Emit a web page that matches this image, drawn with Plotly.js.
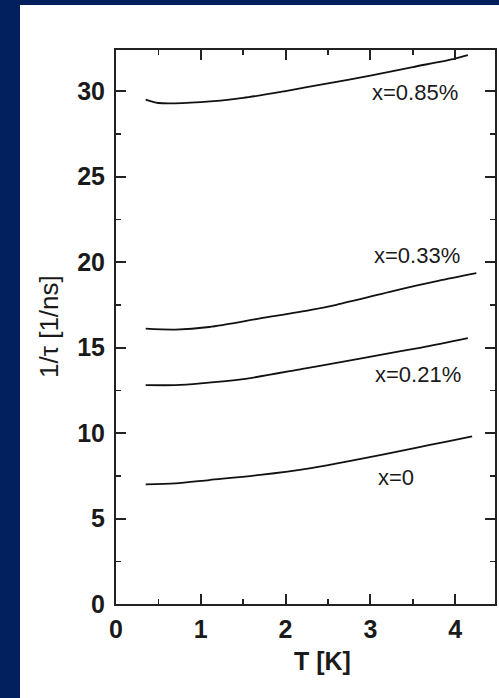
<!DOCTYPE html>
<html><head><meta charset="utf-8">
<script src="https://cdn.plot.ly/plotly-3.0.1.min.js"></script>
<style>html,body{margin:0;padding:0;background:#02205e;}#plot{width:499px;height:698px;}</style>
</head><body><div id="plot"></div>
<script>
// Data
const T_085 = [0.35, 0.5, 1.0, 1.5, 2.0, 2.5, 3.0, 3.5, 4.0, 4.15];
const r_085 = [29.5, 29.3, 29.35, 29.6, 30.0, 30.45, 30.9, 31.4, 31.9, 32.1];
const T_033 = [0.35, 0.7, 1.1, 1.7, 2.3, 2.6, 3.35, 3.8, 4.25];
const r_033 = [16.1, 16.05, 16.2, 16.7, 17.2, 17.5, 18.4, 18.9, 19.35];
const T_021 = [0.35, 0.7, 1.0, 1.5, 2.2, 2.6, 3.15, 3.6, 4.15];
const r_021 = [12.8, 12.8, 12.9, 13.15, 13.75, 14.1, 14.6, 15.0, 15.55];
const T_0 = [0.35, 0.7, 1.1, 1.7, 2.3, 2.75, 3.55, 3.9, 4.2];
const r_0 = [7.0, 7.05, 7.25, 7.55, 7.95, 8.35, 9.15, 9.5, 9.8];
const labels = ["x=0.85%", "x=0.33%", "x=0.21%", "x=0"];
const labelT = [3.53, 3.55, 3.56, 3.30];
const labelR = [29.9, 20.4, 13.4, 7.4];
const xTitle = "T [K]";
const yTitle = "1/τ [1/ns]";

const series = [[T_085, r_085], [T_033, r_033], [T_021, r_021], [T_0, r_0]];
const traces = series.map(s => ({
  x: s[0], y: s[1], type: 'scatter', mode: 'lines',
  line: {color: '#111', width: 1.8, shape: 'spline', smoothing: 0.8},
  showlegend: false, hoverinfo: 'skip'
}));

const fontFam = 'Liberation Sans, Arial, sans-serif';
const annotations = labels.map((t, i) => ({
  x: labelT[i], y: labelR[i], xref: 'x', yref: 'y', text: t, showarrow: false,
  font: {family: fontFam, size: 22, color: '#1a1a1a'}
}));
annotations.push({
  x: 2.44, y: 0, xref: 'x', yref: 'paper', yanchor: 'middle', yshift: -57,
  text: '<b>' + xTitle + '</b>', showarrow: false,
  font: {family: fontFam, size: 25, color: '#1a1a1a'}
});
annotations.push({
  x: 0, y: 0.5, xref: 'paper', yref: 'paper', xanchor: 'center', xshift: -67,
  text: yTitle, textangle: -90, showarrow: false,
  font: {family: fontFam, size: 26, color: '#1a1a1a'}
});

const axisCommon = {
  showgrid: false, zeroline: false, showline: true, linecolor: '#222', linewidth: 2,
  mirror: 'allticks', ticks: 'inside', ticklen: 10, tickwidth: 2, tickcolor: '#222',
  tickfont: {family: fontFam, size: 25, color: '#1a1a1a', weight: 'bold'}
};

const layout = {
  width: 499, height: 698,
  margin: {l: 116, r: 4, t: 50, b: 94},
  paper_bgcolor: '#02205e', plot_bgcolor: '#ffffff',
  shapes: [{type: 'rect', xref: 'paper', yref: 'paper', x0: -0.2533, x1: 1.03, y0: -0.18, y1: 1.0812,
            fillcolor: '#ffffff', line: {width: 0}, layer: 'below'}],
  xaxis: Object.assign({}, axisCommon, {
    range: [0, 4.47], dtick: 1, tick0: 0, ticklabelstandoff: 2,
    minor: {dtick: 0.5, ticks: 'inside', ticklen: 5, tickwidth: 1.5, tickcolor: '#222'}
  }),
  yaxis: Object.assign({}, axisCommon, {
    range: [0, 32.4], dtick: 5, tick0: 0, ticklabelstandoff: 4,
    minor: {dtick: 2.5, ticks: 'inside', ticklen: 5, tickwidth: 1.5, tickcolor: '#222'}
  }),
  annotations: annotations
};

Plotly.newPlot('plot', traces, layout, {displayModeBar: false, staticPlot: true});
</script></body></html>
